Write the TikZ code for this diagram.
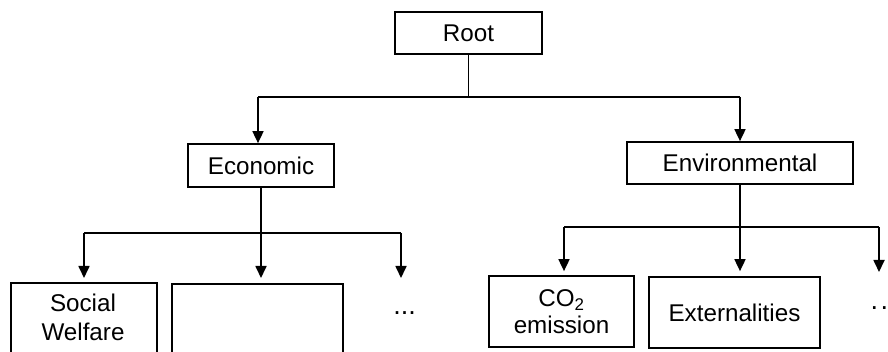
\documentclass[tikz,border=0pt]{standalone}
\usepackage{fontspec}
\setmainfont{Liberation Sans}
\usetikzlibrary{arrows.meta}
\tikzset{
  box/.style={draw, line width=1.7pt, inner sep=0pt, align=center},
  wire/.style={line width=1.7pt},
  arr/.style={wire, -{Triangle[length=12pt,width=11pt]}},
  lbl/.style={inner sep=0pt},
  dotlbl/.style={inner sep=0pt, font=\fontsize{27}{30}\selectfont}
}
\begin{document}
\begin{tikzpicture}[x=1pt,y=-1pt,font=\fontsize{24.2}{27}\selectfont]
\clip (0,0) rectangle (888,352);
\fill[white] (0,0) rectangle (888,352);

% top level
\node[box, minimum width=147pt, minimum height=42pt] (root) at (468.5,33) {Root};
\node[box, minimum width=146pt, minimum height=43pt] (econ) at (261,165.5) {Economic};
\node[box, minimum width=226pt, minimum height=42pt] (env) at (740,163) {Environmental};

% economic children
\node[box, minimum width=146pt, minimum height=90pt, anchor=north west] (sw) at (10,282) {};
\node[lbl, anchor=base] (swa) at (83,312) {Social};
\node[lbl, anchor=base] (swb) at (83,340) {Welfare};
\node[box, minimum width=171pt, minimum height=90pt, anchor=north west] (blank) at (171,283) {};
\node[dotlbl, anchor=base] (edots) at (404.5,314.5) {...};

% environmental children
\node[box, minimum width=145pt, minimum height=71pt] (co2) at (561.5,311.5) {CO\textsubscript{2}\\emission};
\node[box, minimum width=171pt, minimum height=71pt] (ext) at (734.5,312.5) {Externalities};
\node[dotlbl, anchor=base west] (vdots) at (870.5,309.5) {.\kern2.5pt.\kern2.5pt.};

% root to first level
\coordinate (bL) at (258,97);
\coordinate (bR) at (740,97);
\coordinate (bM) at (root.south |- bL);
\draw[wire] (root.south) -- (bM);
\draw[wire] (bL) -- (bR);
\draw[arr] (bL) -- (bL |- econ.north);
\draw[arr] (bR) -- (env.north);

% economic branch
\coordinate (eL) at (84,233);
\coordinate (eR) at (401,233);
\coordinate (eM) at (econ.south |- eL);
\draw[wire] (econ.south) -- (eM);
\draw[wire] (eL) -- (eR);
\draw[arr] (eL) -- ([yshift=4pt]sw.north -| eL);
\draw[arr] (eM) -- ([yshift=5pt]blank.north -| eM);
\draw[arr] (eR) -- ++(0,45) coordinate (eTip);

% environmental branch
\coordinate (vL) at (564,227);
\coordinate (vR) at (879,227);
\coordinate (vM) at (env.south |- vL);
\draw[wire] (env.south) -- (vM);
\draw[wire] (vL) -- (vR);
\draw[arr] (vL) -- ([yshift=4pt]co2.north -| vL);
\draw[arr] (vM) -- ([yshift=5pt]ext.north -| vM);
\draw[arr] (vR) -- ++(0,45) coordinate (vTip);
\end{tikzpicture}
\end{document}
